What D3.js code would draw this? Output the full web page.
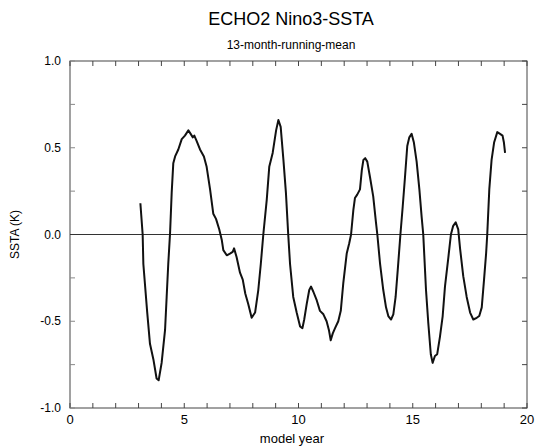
<!DOCTYPE html>
<html>
<head>
<meta charset="utf-8">
<script src="https://cdn.jsdelivr.net/npm/d3@7"></script>
<style>
  body { margin: 0; background: #fff; }
  svg { font-family: "Liberation Sans", Arial, sans-serif; }
</style>
</head>
<body>
<div id="chart"></div>
<script>
// model year
var years = [3.08, 3.18, 3.21, 3.38, 3.50, 3.65, 3.79, 3.88, 4.01, 4.16, 4.23, 4.30, 4.38,
  4.45, 4.52, 4.60, 4.74, 4.89, 5.03, 5.18, 5.28, 5.37, 5.44, 5.54, 5.69, 5.86, 5.98,
  6.13, 6.27, 6.39, 6.53, 6.64, 6.71, 6.86, 7.00, 7.12, 7.18, 7.29, 7.44, 7.56, 7.67,
  7.80, 7.95, 8.10, 8.24, 8.35, 8.46, 8.61, 8.72, 8.87, 9.02, 9.12, 9.22, 9.34, 9.45,
  9.55, 9.63, 9.77, 9.92, 10.07, 10.17, 10.25, 10.36, 10.47, 10.55, 10.65, 10.80, 10.94,
  11.09, 11.23, 11.33, 11.41, 11.50, 11.60, 11.74, 11.85, 11.96, 12.11, 12.22, 12.30,
  12.40, 12.47, 12.57, 12.69, 12.77, 12.84, 12.92, 13.01, 13.13, 13.27, 13.39, 13.45,
  13.57, 13.71, 13.83, 13.93, 14.05, 14.15, 14.25, 14.34, 14.46, 14.56, 14.66, 14.76,
  14.85, 14.95, 15.05, 15.17, 15.29, 15.39, 15.46, 15.58, 15.68, 15.79, 15.87, 15.97,
  16.07, 16.19, 16.31, 16.41, 16.56, 16.67, 16.77, 16.88, 16.99, 17.07, 17.21, 17.36,
  17.51, 17.65, 17.80, 17.91, 18.02, 18.12, 18.21, 18.26, 18.35, 18.45, 18.56, 18.70,
  18.82, 18.93, 18.99, 19.04];

// SSTA in K, 13-month running mean
var ssta = [0.18, 0.00, -0.17, -0.45, -0.63, -0.72, -0.83, -0.84, -0.74, -0.55, -0.36, -0.17, 0.01,
  0.24, 0.41, 0.45, 0.49, 0.55, 0.57, 0.60, 0.58, 0.56, 0.57, 0.54, 0.49, 0.45, 0.39,
  0.26, 0.12, 0.09, 0.03, -0.03, -0.09, -0.12, -0.11, -0.10, -0.08, -0.13, -0.22, -0.26, -0.34,
  -0.40, -0.48, -0.45, -0.32, -0.17, 0.00, 0.20, 0.39, 0.47, 0.60, 0.66, 0.62, 0.43, 0.24,
  0.00, -0.17, -0.36, -0.45, -0.53, -0.54, -0.49, -0.40, -0.32, -0.30, -0.33, -0.38, -0.44,
  -0.46, -0.50, -0.55, -0.61, -0.57, -0.54, -0.50, -0.44, -0.28, -0.11, -0.05, 0.00,
  0.14, 0.21, 0.23, 0.26, 0.37, 0.43, 0.44, 0.42, 0.33, 0.22, 0.07, 0.00,
  -0.17, -0.32, -0.42, -0.47, -0.49, -0.46, -0.36, -0.21, 0.00, 0.16, 0.33, 0.51,
  0.56, 0.58, 0.53, 0.42, 0.26, 0.10, 0.00, -0.32, -0.51, -0.69, -0.74, -0.70,
  -0.69, -0.59, -0.47, -0.30, -0.13, 0.00, 0.05, 0.07, 0.03, -0.08, -0.24, -0.36,
  -0.45, -0.49, -0.48, -0.47, -0.42, -0.26, -0.11, 0.00, 0.26, 0.43, 0.53, 0.59,
  0.58, 0.57, 0.53, 0.47];

var xTicks = [0, 5, 10, 15, 20];
var yTicks = [-1.0, -0.5, 0.0, 0.5, 1.0];

var width = 536, height = 448;
var margin = { left: 70, right: 9, top: 61, bottom: 40 };

var svg = d3.select('#chart').append('svg')
    .attr('width', width)
    .attr('height', height);

var x = d3.scaleLinear().domain([0, 20]).range([margin.left, width - margin.right]);
var y = d3.scaleLinear().domain([-1, 1]).range([height - margin.bottom, margin.top]);

// frame
svg.append('rect')
    .attr('x', x(0)).attr('y', y(1))
    .attr('width', x(20) - x(0)).attr('height', y(-1) - y(1))
    .attr('fill', 'none').attr('stroke', '#444').attr('stroke-width', 1);

// inward ticks on all four sides
var tickLen = 5;
var xMinor = d3.range(0, 21, 1);
var yMinor = d3.range(-1, 1.01, 0.25);

svg.selectAll('.xt-bottom').data(xMinor).enter().append('line')
    .attr('x1', d => x(d)).attr('x2', d => x(d))
    .attr('y1', y(-1)).attr('y2', y(-1) - tickLen)
    .attr('stroke', '#444');
svg.selectAll('.xt-top').data(xMinor).enter().append('line')
    .attr('x1', d => x(d)).attr('x2', d => x(d))
    .attr('y1', y(1)).attr('y2', y(1) + tickLen)
    .attr('stroke', '#444');
svg.selectAll('.yt-left').data(yMinor).enter().append('line')
    .attr('x1', x(0)).attr('x2', x(0) + tickLen)
    .attr('y1', d => y(d)).attr('y2', d => y(d))
    .attr('stroke', '#888');
svg.selectAll('.yt-right').data(yMinor).enter().append('line')
    .attr('x1', x(20)).attr('x2', x(20) - tickLen)
    .attr('y1', d => y(d)).attr('y2', d => y(d))
    .attr('stroke', '#444');

// tick labels
svg.selectAll('.xl').data(xTicks).enter().append('text')
    .attr('x', d => x(d)).attr('y', 424)
    .attr('text-anchor', 'middle')
    .style('font-size', '13px')
    .text(d => d);

svg.selectAll('.yl').data(yTicks).enter().append('text')
    .attr('x', 61).attr('y', d => y(d) + 4)
    .attr('text-anchor', 'end')
    .style('font-size', '12px')
    .text(d => d.toFixed(1));

// zero line
svg.append('line')
    .attr('x1', x(0)).attr('x2', x(20))
    .attr('y1', y(0)).attr('y2', y(0))
    .attr('stroke', '#333').attr('stroke-width', 1);

// the series
var line = d3.line()
    .x((d, i) => x(years[i]))
    .y(d => y(d));

svg.append('path')
    .datum(ssta)
    .attr('d', line)
    .attr('fill', 'none')
    .attr('stroke', '#111')
    .attr('stroke-width', 2)
    .attr('stroke-linejoin', 'round');

// titles
svg.append('text')
    .attr('x', 291).attr('y', 25)
    .attr('text-anchor', 'middle')
    .style('font-size', '18px')
    .text('ECHO2 Nino3-SSTA');

svg.append('text')
    .attr('x', 291).attr('y', 49)
    .attr('text-anchor', 'middle')
    .style('font-size', '12px')
    .text('13-month-running-mean');

svg.append('text')
    .attr('x', 292).attr('y', 443)
    .attr('text-anchor', 'middle')
    .style('font-size', '13px')
    .text('model year');

svg.append('text')
    .attr('transform', 'translate(19,' + y(0) + ') rotate(-90)')
    .attr('text-anchor', 'middle')
    .style('font-size', '12px')
    .text('SSTA (K)');
</script>
</body>
</html>
